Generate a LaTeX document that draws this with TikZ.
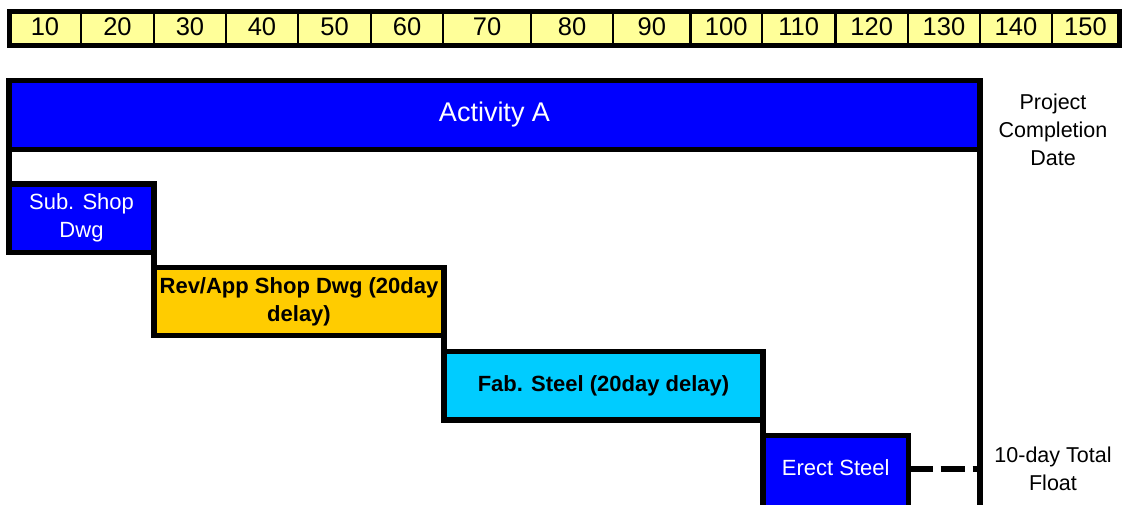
\documentclass[tikz,border=0pt]{standalone}
\usepackage{fontspec}
\setmainfont{Liberation Sans}
\usepackage{tikz}
\definecolor{rulerfill}{HTML}{FFFF99}
\definecolor{actblue}{HTML}{0000FF}
\definecolor{revorange}{HTML}{FFCC00}
\definecolor{fabcyan}{HTML}{00CCFF}
\tikzset{cell/.style = {draw, line width=2.5pt, fill=rulerfill, inner sep=0, outer sep=0, minimum height=34.5pt, text height=18.5pt, text depth=5pt, font=\fontsize{25.5}{30}\selectfont}}
\tikzset{bar/.style = {draw, line width=5.5pt, inner sep=0, outer sep=0, anchor=north west, align=center, font=\fontsize{22}{28}\selectfont}}
\tikzset{boldbar/.style = {bar, font=\fontsize{22}{28}\selectfont\bfseries}}
\tikzset{link/.style = {line width=5.5pt}}
\tikzset{note/.style = {align=center, font=\fontsize{21.5}{28}\selectfont}}

\begin{document}
\begin{tikzpicture}[x=1pt,y=-1pt]
        \useasboundingbox (0,0) rectangle (1127,504);
        \foreach \a/\b/\n in {9/81/10, 81/154/20, 154/226/30, 226/298/40, 298/371/50, 371/443/60, 443/531/70, 531/613/80, 613/690.5/90, 690.5/762/100, 762/835.5/110, 835.5/908/120, 908/980/130, 980/1052/140, 1052/1119/150}
            \node [cell, minimum width={(\b-\a)*1pt}] (t\n) at ({(\a+\b)/2},28.25) {\n};
        \draw [line width=5pt] (t10.north west) rectangle (t150.south east);

        \node [bar, fill=actblue, text=white, font=\fontsize{27}{32}\selectfont, minimum width=971pt, minimum height=69pt] (actA) at (9,80.5) {Activity A};
        \node [bar, fill=actblue, text=white, minimum width=145pt, minimum height=68.5pt] (subdwg) at (9,184) {Sub. Shop\\Dwg};
        \node [boldbar, fill=revorange, minimum width=290pt, minimum height=68pt] (revdwg) at (154,267.5) {Rev/App Shop Dwg (20day\\delay)};
        \node [boldbar, fill=fabcyan, minimum width=319pt, minimum height=68.5pt] (fabsteel) at (444,351.5) {Fab. Steel (20day delay)};
        \node [bar, fill=actblue, text=white, text height=16pt, text depth=17pt, minimum width=145.5pt, minimum height=80pt] (erect) at (763,435.5) {Erect Steel};

        \draw [link] (actA.south west) -- (subdwg.north west);
        \draw [link] (subdwg.south east) -- (revdwg.north west);
        \draw [link] (revdwg.south east) -- (fabsteel.north west);
        \draw [link] (fabsteel.south east) -- (erect.north west);

        \coordinate (pcdend) at (980,515);
        \coordinate (floatlvl) at (980,469);
        \draw [link] (actA.north east) -- (pcdend);
        \draw [link, dash pattern=on 24pt off 8pt] (erect.east |- floatlvl) -- (floatlvl);

        \node [note] (pcd) at (1053,130) {Project\\Completion\\Date};
        \node [note] (tfloat) at (1053,469) {10-day Total\\Float};
    \end{tikzpicture}
\end{document}
